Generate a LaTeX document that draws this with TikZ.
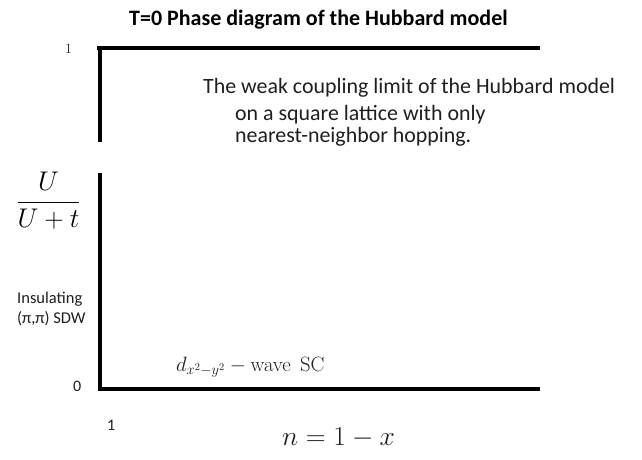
\RequirePackage{fix-cm}
\documentclass[tikz,border=0pt]{standalone}
\usepackage{amsmath}
\usepackage[no-math]{fontspec}
\setmainfont{Carlito}
\newfontfamily\lmserif{Latin Modern Roman}
\begin{document}
\begin{tikzpicture}[x=1pt,y=-1pt,
  axisline/.style={line width=3.5pt,black},
  lbl/.style={inner sep=0pt,anchor=base west,text=black!88},
]
\useasboundingbox[fill=white] (0,0) rectangle (642,459);
% axes
\coordinate (tl) at (97,48);
\coordinate (tr) at (540,48);
\coordinate (v1a) at (100,46.5);
\coordinate (v1b) at (100,142);
\coordinate (v2a) at (100,173);
\coordinate (v2b) at (100,390.7);
\coordinate (bl) at (98.25,389);
\coordinate (br) at (540,389);
\draw[axisline] (tl) -- (tr);
\draw[axisline] (v1a) -- (v1b);
\draw[axisline] (v2a) -- (v2b);
\draw[axisline] (bl) -- (br);
% title
\node[lbl,text=black] (title) at (129,25) {\fontsize{22}{26}\selectfont\bfseries T=0 Phase diagram of the Hubbard model};
% description
\node[lbl] (d1) at (203,93) {\fontsize{21.9}{26}\selectfont The weak coupling limit of the Hubbard model};
\node[lbl] (d2) at (235,120) {\fontsize{21.9}{26}\selectfont on a square lattice with only};
\node[lbl] (d3) at (235,142) {\fontsize{21.9}{26}\selectfont nearest-neighbor hopping.};
% axis labels
\node[inner sep=0pt] (frac) at (48.5,201) {\fontsize{27}{32}\selectfont$\displaystyle\frac{U}{U+t}$};
\node[lbl] (one) at (65,53) {\lmserif\fontsize{14}{17}\selectfont 1};
\node[lbl] (zero) at (73,391) {\fontsize{16}{19}\selectfont 0};
\node[lbl] (onex) at (107,430) {\fontsize{16}{19}\selectfont 1};
\node[lbl] (xlab) at (282,445) {\fontsize{27.5}{32}\selectfont$n=1-x$};
% phases
\node[lbl] (ins1) at (17,303) {\fontsize{16.5}{20}\selectfont Insulating};
\node[lbl] (ins2) at (17,323) {\fontsize{16.5}{20}\selectfont (π,π) SDW};
\node[lbl] (dw) at (176,371) {\fontsize{20.7}{25}\selectfont$d_{x^2-y^2}-\mathrm{wave}\ \ \mathrm{SC}$};
\end{tikzpicture}
\end{document}
